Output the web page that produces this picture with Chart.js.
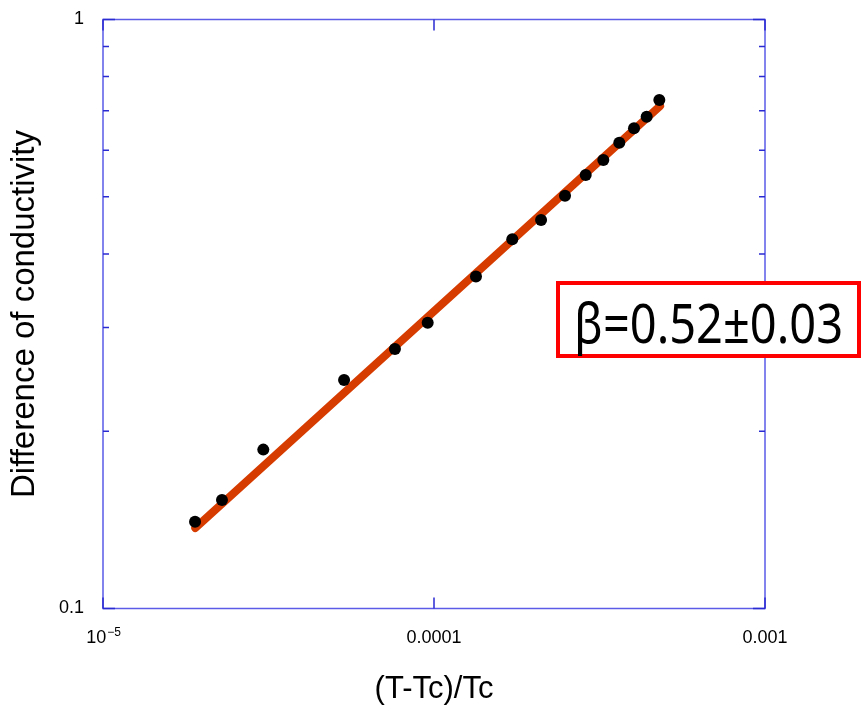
<!DOCTYPE html>
<html>
<head>
<meta charset="utf-8">
<script src="https://cdn.jsdelivr.net/npm/chart.js@4.4.1/dist/chart.umd.min.js"></script>
<style>
  body { margin: 0; background: #fff; }
  #wrap { position: relative; width: 861px; height: 709px; }
  #beta {
    position: absolute; left: 556px; top: 281px; width: 305px; height: 77px;
    box-sizing: border-box; border: 4px solid #ff0000; background: #fff;
    display: flex; align-items: center; justify-content: center;
    font-family: "Noto Sans", sans-serif; font-size: 54px; color: #000;
  }
  #beta span { display: inline-block; transform: scaleX(0.87); white-space: nowrap; position: relative; top: 2px; }
</style>
</head>
<body>
<div id="wrap">
  <canvas id="graph"></canvas>
  <div id="beta"><span>β=0.52±0.03</span></div>
</div>
<script>
// points mesurés
const tempReduite = [1.897e-5, 2.288e-5, 3.05e-5, 5.35e-5, 7.62e-5, 9.57e-5, 1.339e-4, 1.724e-4,
                     2.106e-4, 2.488e-4, 2.873e-4, 3.247e-4, 3.629e-4, 4.02e-4, 4.39e-4, 4.795e-4];
const diffConductivite = [0.1404, 0.1528, 0.1861, 0.2443, 0.2758, 0.3056, 0.3660, 0.4234,
                          0.4566, 0.5022, 0.5445, 0.5773, 0.6179, 0.6535, 0.6839, 0.7300];

// droite d'ajustement (beta = 0.52)
const fitX = [1.9e-5, 4.82e-4];
const fitY = [0.137, 0.713];

// graduations
const xTicks = [1e-5, 1e-4, 1e-3];
const xTickLabels = ['10^-5', '0.0001', '0.001'];
const yTicks = [0.1, 0.2, 0.3, 0.4, 0.5, 0.6, 0.7, 0.8, 0.9, 1];
const yMajor = [0.1, 1];
const yTickLabels = ['0.1', '1'];

const police = '"Liberation Sans", Arial, sans-serif';

// cadre bleu + graduations vers l'intérieur
const cadre = {
  id: 'cadre',
  beforeDatasetsDraw(chart) {
    const { ctx, chartArea: a, scales: { x, y } } = chart;
    ctx.save();
    ctx.strokeStyle = '#5b5be8';
    ctx.lineWidth = 1.5;
    ctx.strokeRect(a.left, a.top, a.right - a.left, a.bottom - a.top);
    ctx.strokeStyle = '#2b2bd2';
    ctx.beginPath();
    yTicks.forEach(v => {
      const py = y.getPixelForValue(v);
      const len = yMajor.includes(v) ? 12 : 6;
      ctx.moveTo(a.left, py); ctx.lineTo(a.left + len, py);
      ctx.moveTo(a.right, py); ctx.lineTo(a.right - len, py);
    });
    xTicks.forEach(v => {
      const px = x.getPixelForValue(v);
      ctx.moveTo(px, a.bottom); ctx.lineTo(px, a.bottom - 11);
      ctx.moveTo(px, a.top); ctx.lineTo(px, a.top + 11);
    });
    ctx.stroke();
    ctx.restore();
  },
  afterDraw(chart) {
    // étiquette 10^-5 avec exposant
    const { ctx, scales: { x } } = chart;
    const parts = xTickLabels[0].split('^');
    const px = x.getPixelForValue(xTicks[0]);
    const yBase = x.top + 19 + 10.8;
    ctx.save();
    ctx.fillStyle = '#000';
    ctx.textBaseline = 'middle';
    ctx.textAlign = 'left';
    ctx.font = '18px ' + police;
    const w1 = ctx.measureText(parts[0]).width;
    ctx.font = '12px ' + police;
    const exp = parts[1].replace('-', '\u2212');
    const w2 = ctx.measureText(exp).width;
    const start = px - (w1 + w2) / 2;
    ctx.font = '18px ' + police;
    ctx.fillText(parts[0], start, yBase);
    ctx.font = '12px ' + police;
    ctx.fillText(exp, start + w1 + 1, yBase - 6);
    ctx.restore();
  }
};

new Chart(document.getElementById('graph').getContext('2d'), {
  data: {
    datasets: [
      {
        type: 'scatter',
        data: tempReduite.map((t, i) => ({ x: t, y: diffConductivite[i] })),
        backgroundColor: '#000',
        borderWidth: 0,
        pointRadius: 6,
        order: 0
      },
      {
        type: 'line',
        data: fitX.map((t, i) => ({ x: t, y: fitY[i] })),
        borderColor: '#d63c00',
        borderWidth: 8,
        borderCapStyle: 'round',
        pointRadius: 0,
        fill: false,
        order: 1
      }
    ]
  },
  options: {
    responsive: true,
    maintainAspectRatio: false,
    animation: false,
    layout: { padding: { top: 19.5, right: 96, left: 0, bottom: 0 } },
    plugins: { legend: { display: false }, tooltip: { enabled: false } },
    scales: {
      x: {
        type: 'logarithmic',
        position: 'bottom',
        min: 1e-5,
        max: 1e-3,
        afterBuildTicks: s => { s.ticks = xTicks.map(v => ({ value: v })); },
        afterFit: s => { s.height = 100.5; s.paddingLeft = 0; s.paddingRight = 0; },
        grid: { display: false, drawTicks: false },
        border: { display: false },
        ticks: {
          padding: 19,
          maxRotation: 0,
          autoSkip: false,
          color: '#000',
          font: { family: police, size: 18 },
          callback: (v, i) => (i === 0 ? '' : xTickLabels[i])
        },
        title: {
          display: true,
          text: '(T-Tc)/Tc',
          color: '#000',
          font: { family: police, size: 31, lineHeight: 1 },
          padding: { top: 0, bottom: 4 }
        }
      },
      y: {
        type: 'logarithmic',
        min: 0.1,
        max: 1,
        afterBuildTicks: s => { s.ticks = yTicks.map(v => ({ value: v })); },
        afterFit: s => { s.width = 103; s.paddingTop = 0; s.paddingBottom = 0; },
        grid: { display: false, drawTicks: false },
        border: { display: false },
        ticks: {
          padding: 19,
          autoSkip: false,
          color: '#000',
          font: { family: police, size: 18 },
          callback: v => {
            const k = yMajor.findIndex(m => Math.abs(m - v) < 1e-9);
            return k >= 0 ? yTickLabels[k] : '';
          }
        },
        title: {
          display: true,
          text: 'Difference of conductivity',
          color: '#000',
          font: { family: police, size: 33, lineHeight: 1 },
          padding: { top: 8, bottom: 0 }
        }
      }
    }
  },
  plugins: [cadre]
});
</script>
</body>
</html>
